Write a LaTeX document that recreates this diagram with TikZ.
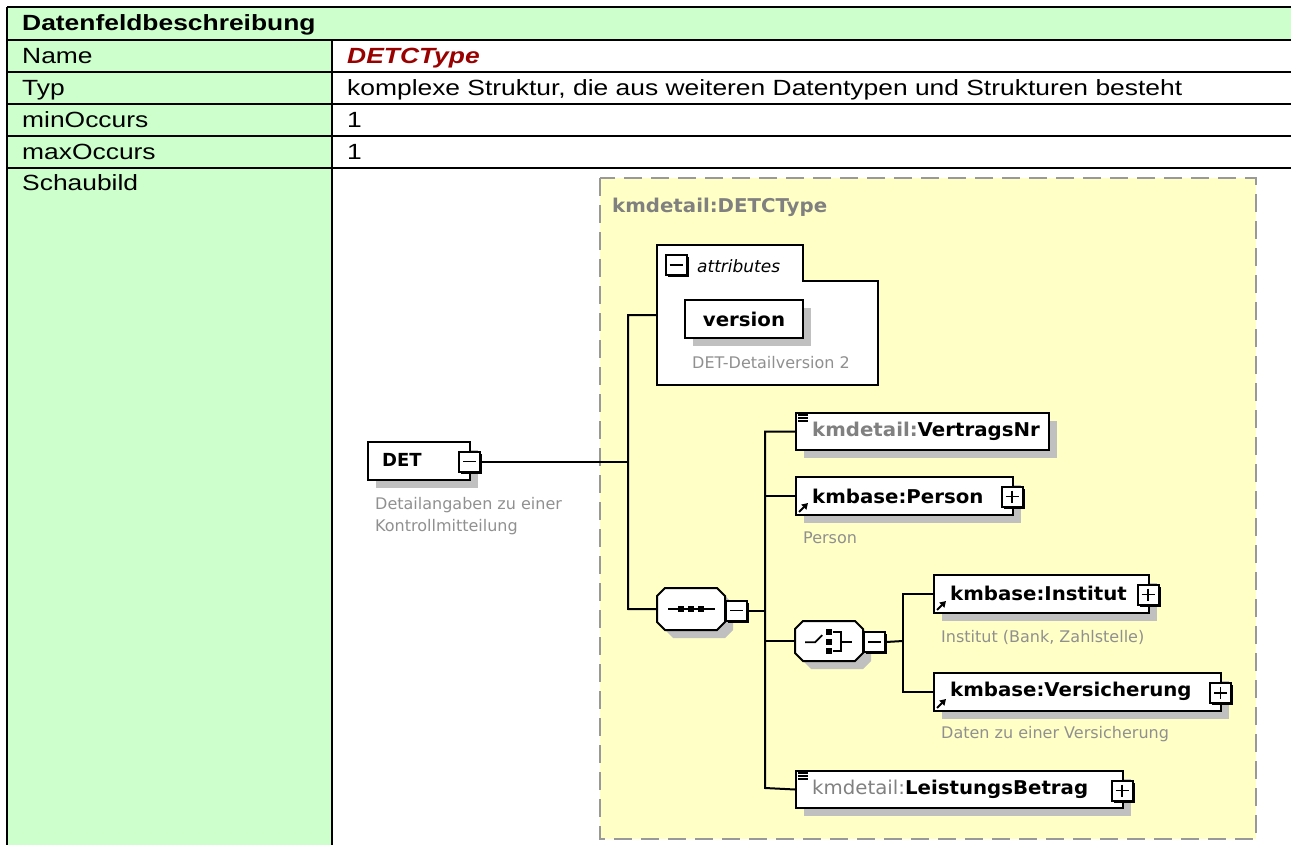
\documentclass[tikz,border=0pt]{standalone}
\usepackage{fontspec}
\setmainfont{Liberation Sans}
\newfontfamily\tabfont[FakeStretch=1.2]{Liberation Sans}
\newfontfamily\dfont[FakeStretch=1.04]{DejaVu Sans}
\newfontfamily\dplain{DejaVu Sans}
\usetikzlibrary{shadows,arrows.meta}
\definecolor{tgreen}{HTML}{CCFFCC}
\definecolor{dyellow}{HTML}{FFFFC6}
\definecolor{dashgray}{HTML}{999999}
\definecolor{sgray}{HTML}{C0C0C0}
\definecolor{titlegray}{HTML}{808080}
\definecolor{descgray}{HTML}{909090}
\definecolor{dred}{HTML}{990000}
\newcommand\octag[4]{({#1+8},#2) -- ({#3-8},#2) -- (#3,{#2+8}) -- (#3,{#4-8}) -- ({#3-8},#4) -- ({#1+8},#4) -- (#1,{#4-8}) -- (#1,{#2+8}) -- cycle}
\tikzset{
  tline/.style={line width=2.5pt},
  conn/.style={line width=2pt},
  elbox/.style={draw, line width=2pt, fill=white, inner sep=0, anchor=north west,
    drop shadow={shadow xshift=8pt, shadow yshift=-8pt, fill=sgray, opacity=1}},
  pmbase/.style={draw, line width=2pt, fill=white, inner sep=0, minimum width=21pt, minimum height=20pt,
    drop shadow={shadow xshift=2pt, shadow yshift=-2pt, fill=black, opacity=1}},
  minusbox/.style={pmbase, path picture={\draw[line width=1.8pt] ([xshift=4pt]path picture bounding box.west) -- ([xshift=-4pt]path picture bounding box.east);}},
  plusbox/.style={pmbase, path picture={\draw[line width=1.8pt] ([xshift=4pt]path picture bounding box.west) -- ([xshift=-4pt]path picture bounding box.east);
      \draw[line width=1.8pt] ([yshift=-4pt]path picture bounding box.north) -- ([yshift=4pt]path picture bounding box.south);}},
  octo/.style={draw, line width=2pt, fill=white},
  octshadow/.style={fill=sgray},
  tab/.style={inner sep=0, anchor=base west, font=\tabfont\fontsize{22}{26}\selectfont},
  dtxt/.style={inner sep=0, anchor=west, font=\dfont\bfseries\fontsize{19}{22}\selectfont},
  desc/.style={inner sep=0, anchor=west, text=descgray, font=\dplain\fontsize{16}{19}\selectfont},
  refarrow/.style={line width=2pt, -{Triangle[length=6pt,width=7pt]}},
  iconline/.style={line width=1.4pt},
  dashbox/.style={draw=dashgray, fill=dyellow, line width=2pt, dash pattern=on 18pt off 9pt},
}
\begin{document}
\begin{tikzpicture}[x=1pt,y=-1pt]
\useasboundingbox (0,0) rectangle (1291,845);
% ---------- table ----------
\fill[tgreen] (7,7) rectangle (1291,40);
\fill[tgreen] (7,40) rectangle (332,845);
\draw[tline] (7,7) -- (1291,7);
\foreach \yy in {40,72,104,136,168} \draw[tline] (7,\yy) -- (1291,\yy);
\draw[tline] (7,7) -- (7,845);
\draw[tline] (332,40) -- (332,845);
\node[tab, font=\tabfont\bfseries\fontsize{22}{26}\selectfont] (hdr) at (22,31) {Datenfeldbeschreibung};
\node[tab] (lname) at (22,64) {Name};
\node[tab] (ltyp) at (22,96) {Typ};
\node[tab] (lmin) at (22,128) {minOccurs};
\node[tab] (lmax) at (22,160) {maxOccurs};
\node[tab] (lbild) at (22,191) {Schaubild};
\node[tab, text=dred, font=\tabfont\bfseries\itshape\fontsize{22}{26}\selectfont] (vname) at (347,64) {DETCType};
\node[tab] (vtyp) at (347,96) {komplexe Struktur, die aus weiteren Datentypen und Strukturen besteht};
\node[tab] (vmin) at (347,128) {1};
\node[tab] (vmax) at (347,160) {1};
% ---------- diagram frame ----------
\draw[dashbox] (600,178) rectangle (1256,839);
\node[dtxt, text=titlegray] (ttl) at (612,207) {kmdetail:DETCType};
% attributes
\draw[line width=2pt, fill=white] (657,245) -- (803,245) -- (803,281) -- (878,281) -- (878,385) -- (657,385) -- cycle;
\coordinate (attl) at (657,315);
\node[minusbox] (attpm) at (676,265) {};
\node[inner sep=0, anchor=west, font=\dplain\itshape\fontsize{17}{20}\selectfont] (atttxt) at (697,266) {attributes};
\node[elbox, minimum width=118pt, minimum height=38pt, font=\dfont\bfseries\fontsize{19}{22}\selectfont] (ver) at (684,299) {version};
\node[desc] (verd) at (692,363) {DET-Detailversion 2};
% DET
\node[elbox, minimum width=102pt, minimum height=38pt] (det) at (367,441) {};
\node[inner sep=0, anchor=west, font=\dplain\bfseries\fontsize{18}{21}\selectfont] (dett) at (382,460) {DET};
\node[minusbox] (detpm) at (469.5,461.5) {};
\node[desc] (detd1) at (375,505) {Detailangaben zu einer};
\node[desc] (detd2) at (375,527) {Kontrollmitteilung};
% sequence
\fill[octshadow] \octag{665}{596}{733}{638};
\draw[octo] \octag{657}{588}{725}{630};
\node[minimum width=68pt, minimum height=42pt, inner sep=0, anchor=north west] (seq) at (657,588) {};
\begin{scope}[shift={(seq.center)}]
  \draw[line width=1.8pt] (-23,0) -- (24,0);
  \foreach \dx in {-10,0,10} \fill (\dx-3,-3) rectangle (\dx+3,3);
\end{scope}
\node[minusbox] (seqpm) at (736.5,610.5) {};
% choice
\fill[octshadow] \octag{803}{629}{871}{669};
\draw[octo] \octag{795}{621}{863}{661};
\node[minimum width=68pt, minimum height=40pt, inner sep=0, anchor=north west] (cho) at (795,621) {};
\begin{scope}[shift={(cho.center)}]
  \draw[line width=1.8pt] (-24,1) -- (-14,1) -- (-7,-6);
  \foreach \dy in {-9.5,0.5,10} \fill (-3,\dy-3) rectangle (3,\dy+3);
  \draw[line width=1.8pt] (4,-9.5) -- (12,-9.5) -- (12,10) -- (4,10);
  \draw[line width=1.8pt] (12,0.5) -- (23,0.5);
\end{scope}
\node[minusbox] (chopm) at (874.5,642) {};
% VertragsNr
\node[elbox, minimum width=253pt, minimum height=37pt] (vnr) at (795,412) {};
\node[dtxt] (vnrt) at (812,431) {\textcolor{titlegray}{kmdetail:}VertragsNr};
\begin{scope}[shift={(vnr.north west)}]
  \foreach \yy in {3,6,9} \draw[iconline] (3,\yy) -- (13,\yy);
\end{scope}
% Person
\node[elbox, minimum width=217pt, minimum height=38pt] (per) at (795,476) {};
\node[dtxt] (pert) at (812,496) {kmbase:Person};
\node[plusbox] (perpm) at (1012,496.5) {};
\draw[refarrow] ([xshift=4pt,yshift=4pt]per.south west) -- ([xshift=13pt,yshift=13pt]per.south west);
\node[desc] (perd) at (803,538) {Person};
% Institut
\node[elbox, minimum width=215pt, minimum height=38pt] (ins) at (933,574) {};
\node[dtxt] (inst) at (950,593) {kmbase:Institut};
\node[plusbox] (inspm) at (1148,594.5) {};
\draw[refarrow] ([xshift=4pt,yshift=4pt]ins.south west) -- ([xshift=13pt,yshift=13pt]ins.south west);
\node[desc] (insd) at (941,637) {Institut (Bank, Zahlstelle)};
% Versicherung
\node[elbox, minimum width=287pt, minimum height=38pt] (vers) at (933,672) {};
\node[dtxt] (verst) at (950,691) {kmbase:Versicherung};
\node[plusbox] (verspm) at (1220.5,693) {};
\draw[refarrow] ([xshift=4pt,yshift=4pt]vers.south west) -- ([xshift=13pt,yshift=13pt]vers.south west);
\node[desc] (versd) at (941,734) {Daten zu einer Versicherung};
% LeistungsBetrag
\node[elbox, minimum width=327pt, minimum height=37pt] (leis) at (795,770) {};
\node[dtxt] (leist) at (812,789) {\textcolor{titlegray}{\mdseries kmdetail:}LeistungsBetrag};
\node[plusbox] (leispm) at (1122,790.5) {};
\begin{scope}[shift={(leis.north west)}]
  \foreach \yy in {3,6,9} \draw[iconline] (3,\yy) -- (13,\yy);
\end{scope}
% ---------- connectors ----------
\coordinate (ja) at (628,315);
\coordinate (jb) at (628,609);
\coordinate (jdet) at (628,461.5);
\coordinate (jl) at (765,788);
\coordinate (jd) at (903,641);
\draw[conn] (detpm.east) -- (jdet);
\draw[conn] (attl) -- (ja) -- (jb) -- (seq.west);
\draw[conn] (seqpm.east) -- (seqpm.east -| jl);
\draw[conn] (vnr.west) -| (jl) -- (leis.west);
\draw[conn] (per.west) -- (per.west -| jl);
\draw[conn] (cho.west) -- (cho.west -| jl);
\draw[conn] (chopm.east) -- (jd);
\draw[conn] (ins.west) -| (jd) |- (vers.west);
\end{tikzpicture}
\end{document}
